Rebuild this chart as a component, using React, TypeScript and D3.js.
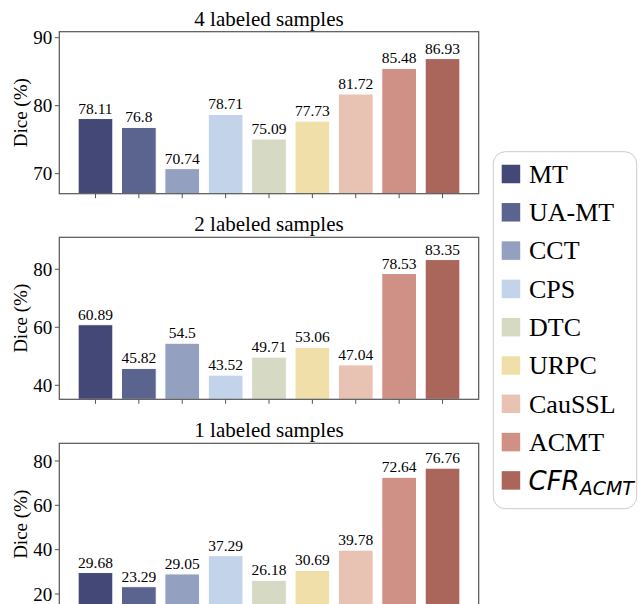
import React from "react";
import * as d3 from "d3";

const methods = ["MT", "UA-MT", "CCT", "CPS", "DTC", "URPC", "CauSSL", "ACMT", "CFR"];
const colors = [
  "#434877",
  "#5b648f",
  "#94a0bf",
  "#c2d3ea",
  "#d6d9c4",
  "#f0dfa8",
  "#e8c2b3",
  "#cf9186",
  "#aa665a",
];

const dice4 = [78.11, 76.8, 70.74, 78.71, 75.09, 77.73, 81.72, 85.48, 86.93];
const dice2 = [60.89, 45.82, 54.5, 43.52, 49.71, 53.06, 47.04, 78.53, 83.35];
const dice1 = [29.68, 23.29, 29.05, 37.29, 26.18, 30.69, 39.78, 72.64, 76.76];
const labels4 = ["78.11", "76.8", "70.74", "78.71", "75.09", "77.73", "81.72", "85.48", "86.93"];
const labels2 = ["60.89", "45.82", "54.5", "43.52", "49.71", "53.06", "47.04", "78.53", "83.35"];
const labels1 = ["29.68", "23.29", "29.05", "37.29", "26.18", "30.69", "39.78", "72.64", "76.76"];

const ticks4 = [70, 80, 90];
const ticks2 = [40, 60, 80];
const ticks1 = [20, 40, 60, 80];

const panels = [
  { title: "4 labeled samples", values: dice4, labels: labels4, ticks: ticks4, domain: [67.05, 90.885], top: 31.7 },
  { title: "2 labeled samples", values: dice2, labels: labels2, ticks: ticks2, domain: [35.17, 91.03], top: 237.3 },
  { title: "1 labeled samples", values: dice1, labels: labels1, ticks: ticks1, domain: [14.9, 87.98], top: 443.3 },
];

const serif = "'Liberation Serif', 'Times New Roman', serif";
const spine = "#555";

const left = 59.3,
  right = 478.7,
  panelHeight = 162;

const xScale = d3.scaleLinear().domain([-0.834, 8.834]).range([left, right]);
const barW = xScale(0.8) - xScale(0);

const Panel = ({ p }) => {
  const bottom = p.top + panelHeight;
  const yScale = d3.scaleLinear().domain(p.domain).range([bottom, p.top]);
  return (
    <g>
      <text x={(left + right) / 2} y={p.top - 6} textAnchor="middle" fontFamily={serif} fontSize={21}>
        {p.title}
      </text>
      {p.values.map((v, i) => (
        <rect
          key={methods[i]}
          x={xScale(i) - barW / 2}
          y={yScale(v)}
          width={barW}
          height={bottom - yScale(v)}
          fill={colors[i]}
          stroke="#fff"
          strokeWidth={1}
        />
      ))}
      {p.values.map((v, i) => (
        <text
          key={"l" + methods[i]}
          x={xScale(i)}
          y={yScale(v) - 5}
          textAnchor="middle"
          fontFamily={serif}
          fontSize={15.5}
        >
          {p.labels[i]}
        </text>
      ))}
      <rect x={left} y={p.top} width={right - left} height={panelHeight} fill="none" stroke={spine} strokeWidth={1.2} />
      {p.ticks.map((t) => (
        <g key={t}>
          <line x1={left - 4.5} x2={left} y1={yScale(t)} y2={yScale(t)} stroke={spine} strokeWidth={1} />
          <text x={left - 7} y={yScale(t)} dy="0.35em" textAnchor="end" fontFamily={serif} fontSize={19}>
            {t}
          </text>
        </g>
      ))}
      {methods.map((m, i) => (
        <line key={"t" + m} x1={xScale(i)} x2={xScale(i)} y1={bottom} y2={bottom + 4.5} stroke={spine} strokeWidth={1} />
      ))}
      <text
        transform={`translate(20,${(p.top + bottom) / 2}) rotate(-90)`}
        textAnchor="middle"
        dy="0.35em"
        fontFamily={serif}
        fontSize={19}
      >
        Dice (%)
      </text>
    </g>
  );
};

const Legend = () => {
  const x0 = 493.3,
    y0 = 151.7,
    rowStep = 38.3,
    firstRow = 174;
  return (
    <g>
      <rect x={x0} y={y0} width={143.4} height={357} rx={12} fill="#fff" stroke="#ccc" strokeWidth={1} />
      {methods.map((m, i) => {
        const cy = firstRow + i * rowStep;
        return (
          <g key={m}>
            <rect x={501.7} y={cy - 9.25} width={18.5} height={18.5} fill={colors[i]} />
            {m === "CFR" ? (
              <text x={528.5} y={cy} dy="0.36em" fontFamily="'DejaVu Sans', sans-serif" fontStyle="italic" fontSize={26}>
                CFR
                <tspan fontSize={19} dy="0.3em">
                  ACMT
                </tspan>
              </text>
            ) : (
              <text x={529} y={cy} dy="0.34em" fontFamily={serif} fontSize={26}>
                {m}
              </text>
            )}
          </g>
        );
      })}
    </g>
  );
};

export default function App() {
  return (
    <svg width={640} height={604} style={{ position: "absolute", left: 0, top: 0, background: "#fff" }}>
      {panels.map((p) => (
        <Panel key={p.title} p={p} />
      ))}
      <Legend />
    </svg>
  );
}
